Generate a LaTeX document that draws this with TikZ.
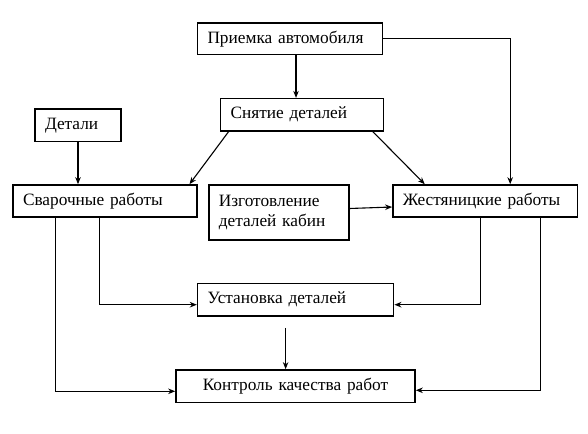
\documentclass[tikz,border=0pt]{standalone}
\usepackage{fontspec}
\setmainfont{Liberation Serif}
\usetikzlibrary{arrows.meta}
\begin{document}
\begin{tikzpicture}[x=1pt,y=-1pt,
  box/.style={draw, line width=1.6pt, rectangle, inner xsep=10pt, inner ysep=0pt,
    font=\fontsize{17.3}{19.5}\selectfont, align=left},
  conn/.style={line width=1.1pt, -{Stealth[length=7pt,width=5.5pt,inset=2.2pt]}}]
\useasboundingbox (0,0) rectangle (588,433);
\node[box, minimum width=185pt, minimum height=31.5pt, text width=165pt] (pri) at (290,38.75) {Приемка автомобиля};
\node[box, minimum width=163pt, minimum height=32pt, text width=143pt] (snt) at (302,114.7) {Снятие деталей};
\node[box, minimum width=86pt, minimum height=32.7pt, text width=66pt] (det) at (78,125.3) {Детали};
\node[box, minimum width=184pt, minimum height=32pt, text width=164pt] (svr) at (105,201) {Сварочные работы};
\node[box, minimum width=140pt, minimum height=55pt, text width=120pt] (izg) at (278.8,212.5) {Изготовление\\деталей кабин};
\node[box, minimum width=184.5pt, minimum height=32pt, text width=164.5pt] (zh) at (485.2,201) {Жестяницкие работы};
\node[box, minimum width=196pt, minimum height=32.7pt, text width=176pt] (ust) at (295.6,299.7) {Установка деталей};
\node[box, minimum width=239pt, minimum height=32.7pt, text width=219pt, align=center] (kon) at (295.5,386.3) {Контроль качества работ};

\draw[conn] ([xshift=6pt]pri.south) -- ([xshift=6pt]pri.south |- snt.north);
\draw[conn] (pri.east) -| ([xshift=25pt]zh.north);
\draw[conn] (det.south) -- (det.south |- svr.north);
\draw[conn] ([xshift=9pt]snt.south west) -- ([xshift=-8.3pt]svr.north east);
\draw[conn] ([xshift=-11.6pt]snt.south east) -- ([xshift=32.6pt]zh.north west);
\draw[conn] ([yshift=4pt]izg.east) -- ([yshift=-6pt]zh.west);
\draw[conn] ([xshift=87.5pt]svr.south west) |- ([yshift=-5pt]ust.west);
\draw[conn] ([xshift=43pt]svr.south west) |- ([yshift=-5pt]kon.west);
\draw[conn] ([xshift=88pt]zh.south west) |- ([yshift=-5pt]ust.east);
\draw[conn] ([xshift=148pt]zh.south west) |- ([yshift=-4pt]kon.east);
\draw[conn] ([xshift=-10pt,yshift=-11pt]ust.south) -- ([xshift=-10pt]ust.south |- kon.north);
\end{tikzpicture}
\end{document}
